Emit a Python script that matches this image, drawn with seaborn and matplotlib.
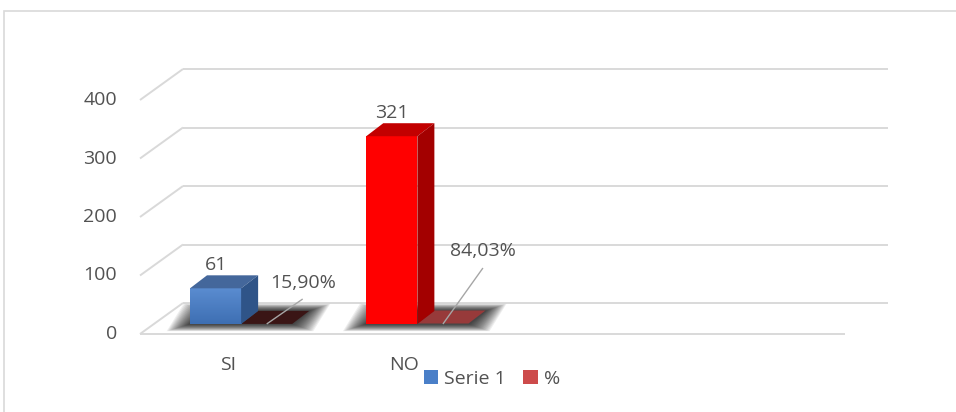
import numpy as np
import pandas as pd
import matplotlib
matplotlib.use("Agg")
import matplotlib.pyplot as plt
import seaborn as sns
from matplotlib.patches import Polygon, Rectangle, Patch
from matplotlib.lines import Line2D
from matplotlib.transforms import IdentityTransform, offset_copy
from matplotlib.colors import LinearSegmentedColormap

# ---- data -------------------------------------------------------------
categories = ["SI", "NO"]
serie_1 = [61, 321]
percentuale = [0.1590, 0.8403]
y_ticks = [0, 100, 200, 300, 400]
series_names = ["Serie 1", "%"]

# ---- style ------------------------------------------------------------
TEXT = "#525252"
GRID = "#D9D9D9"
LEADER = "#A6A6A6"
front_colors = ["#4A7EC3", "#FF0000"]        # Serie 1, per category
top_colors = ["#44679B", "#C20000"]
side_colors = ["#2F5488", "#A30000"]
pct_top_colors = ["#3A1515", "#973A3A"]      # % series, per category
legend_colors = ["#4A7FC8", "#CD4B4B"]
pct_label_offsets = [(36, 25, 41), (40, 56, 73)]  # leader end dx, dy and label dy (px)

DX, DY = 17, 13            # bar depth in pixels
FRONT = (-13, -10)         # front plane relative to the bar plane
BACK = (30, 21)            # back wall relative to the bar plane

sns.set_theme(style="white")
plt.rcParams["font.family"] = ["Open Sans", "DejaVu Sans"]
FS = 14

W, H = 956, 412
fig = plt.figure(figsize=(W / 100, H / 100), dpi=100)
fig.patch.set_facecolor("white")
ax = fig.add_axes([153 / W, 88 / H, 705 / W, 234 / H])

df = pd.DataFrame({
    "categoria": categories * 2,
    "valore": serie_1 + percentuale,
    "serie": [series_names[0]] * len(categories) + [series_names[1]] * len(categories),
})
sns.barplot(data=df, x="categoria", y="valore", hue="serie", order=categories,
            hue_order=series_names, palette=legend_colors, width=0.58, gap=0,
            saturation=1, errorbar=None, legend=False, ax=ax)
ax.set_xlim(-0.5, 3.5)
ax.set_ylim(0, 400)
ax.set_axis_off()

I = IdentityTransform()
td = ax.transData


def px(x, y):
    return td.transform((x, y))


def add_line(p0, p1, color=GRID, lw=1.4, z=0.5):
    ax.add_line(Line2D([p0[0], p1[0]], [p0[1], p1[1]], transform=I, color=color,
                       lw=lw, zorder=z, clip_on=False, solid_capstyle="butt"))


def add_poly(pts, color, z, alpha=1.0):
    ax.add_patch(Polygon(pts, closed=True, transform=I, facecolor=color,
                         edgecolor="none", zorder=z, alpha=alpha, clip_on=False))


# ---- 3D frame: back wall gridlines, side wall diagonals, floor edge -----
xl, xr = ax.get_xlim()
for v in y_ticks:
    a = px(xl, v)
    b = px(xr, v)
    add_line((a[0] + BACK[0], a[1] + BACK[1]), (b[0] + BACK[0], b[1] + BACK[1]))
    add_line((a[0] + FRONT[0], a[1] + FRONT[1]), (a[0] + BACK[0], a[1] + BACK[1]))
a0, b0 = px(xl, 0), px(xr, 0)
add_line((a0[0] + FRONT[0], a0[1] + FRONT[1]), (b0[0] + FRONT[0], b0[1] + FRONT[1]))

# ---- bars -------------------------------------------------------------
bars = sorted([p for p in ax.patches if isinstance(p, Rectangle)], key=lambda p: p.get_x())
s1_bars = [bars[0], bars[2]]
pct_bars = [bars[1], bars[3]]

# soft floor shadow around each category's footprint
for i in range(len(categories)):
    L = px(s1_bars[i].get_x(), 0)
    R = px(pct_bars[i].get_x() + pct_bars[i].get_width(), 0)
    for k in range(18, 0, -1):
        e = k * 1.3
        ev = k * 0.4
        pts = [(L[0] - e, L[1] - ev), (R[0] + e * 0.9, R[1] - ev),
               (R[0] + DX + e * 0.9, R[1] + DY + ev), (L[0] + DX - e, L[1] + DY + ev)]
        add_poly(pts, "black", 1.0, alpha=0.065)

grad = np.linspace(0, 1, 64).reshape(-1, 1)
blue_cmap = LinearSegmentedColormap.from_list("blue_face", ["#5A8CD0", "#3E6FB3"])

for i, bar in enumerate(s1_bars):
    x0 = bar.get_x()
    x1 = x0 + bar.get_width()
    h = bar.get_height()
    bar.set_facecolor(front_colors[i])
    bar.set_edgecolor("none")
    bar.set_zorder(3)
    if i == 0:
        im = ax.imshow(grad, extent=(x0, x1, 0, h), origin="upper", cmap=blue_cmap,
                       aspect="auto", zorder=3.05, interpolation="bilinear")
        im.set_clip_path(bar)
    bl, tl = px(x0, 0), px(x0, h)
    br, tr = px(x1, 0), px(x1, h)
    add_poly([tl, tr, (tr[0] + DX, tr[1] + DY), (tl[0] + DX, tl[1] + DY)], top_colors[i], 3.1)
    add_poly([br, tr, (tr[0] + DX, tr[1] + DY), (br[0] + DX, br[1] + DY)], side_colors[i], 3.1)
    ax.text(x0 + bar.get_width() / 2, h, f"{serie_1[i]}", ha="center", va="center",
            fontsize=FS, color=TEXT, zorder=5,
            transform=offset_copy(td, fig=fig, x=0, y=23, units="dots"))

for i, bar in enumerate(pct_bars):
    x0 = bar.get_x()
    x1 = x0 + bar.get_width()
    h = bar.get_height()
    bar.set_facecolor(pct_top_colors[i])
    bar.set_edgecolor("none")
    bar.set_zorder(2)
    tl, tr = px(x0, h), px(x1, h)
    add_poly([tl, tr, (tr[0] + DX, tr[1] + DY), (tl[0] + DX, tl[1] + DY)], pct_top_colors[i], 2)
    c = px((x0 + x1) / 2, 0)
    ldx, ldy, ty = pct_label_offsets[i]
    add_line(c, (c[0] + ldx, c[1] + ldy), color=LEADER, lw=1.0, z=4)
    label = f"{percentuale[i] * 100:.2f}".replace(".", ",") + "%"
    ax.text((x0 + x1) / 2, 0, label, ha="center", va="center", fontsize=FS, color=TEXT,
            zorder=5, transform=offset_copy(td, fig=fig, x=ldx, y=ty, units="dots"))

# ---- axis labels --------------------------------------------------------
for v in y_ticks:
    ax.text(xl, v, f"{v}", ha="right", va="center", fontsize=FS, color=TEXT,
            transform=offset_copy(td, fig=fig, x=-36, y=-10, units="dots"))
for i, cat in enumerate(categories):
    ax.text(i, 0, cat, ha="center", va="center", fontsize=FS, color=TEXT,
            transform=offset_copy(td, fig=fig, x=-13, y=-41, units="dots"))

# ---- legend -------------------------------------------------------------
handles = [Patch(facecolor=c, edgecolor="none") for c in legend_colors]
fig.legend(handles=handles, labels=series_names, loc="center",
           bbox_to_anchor=(492 / W, 1 - 379 / H), ncol=2, frameon=False,
           handlelength=0.75, handleheight=0.75, handletextpad=0.3,
           columnspacing=0.9, fontsize=FS, labelcolor=TEXT, borderpad=0)

# ---- chart border -------------------------------------------------------
fig.add_artist(Rectangle((4, -20), 1000, H - 11 + 20, transform=I, fill=False,
                         edgecolor=GRID, lw=1.2))

ax.set_xlim(-0.5, 3.5)
ax.set_ylim(0, 400)
fig.savefig("out.png", dpi=100)
